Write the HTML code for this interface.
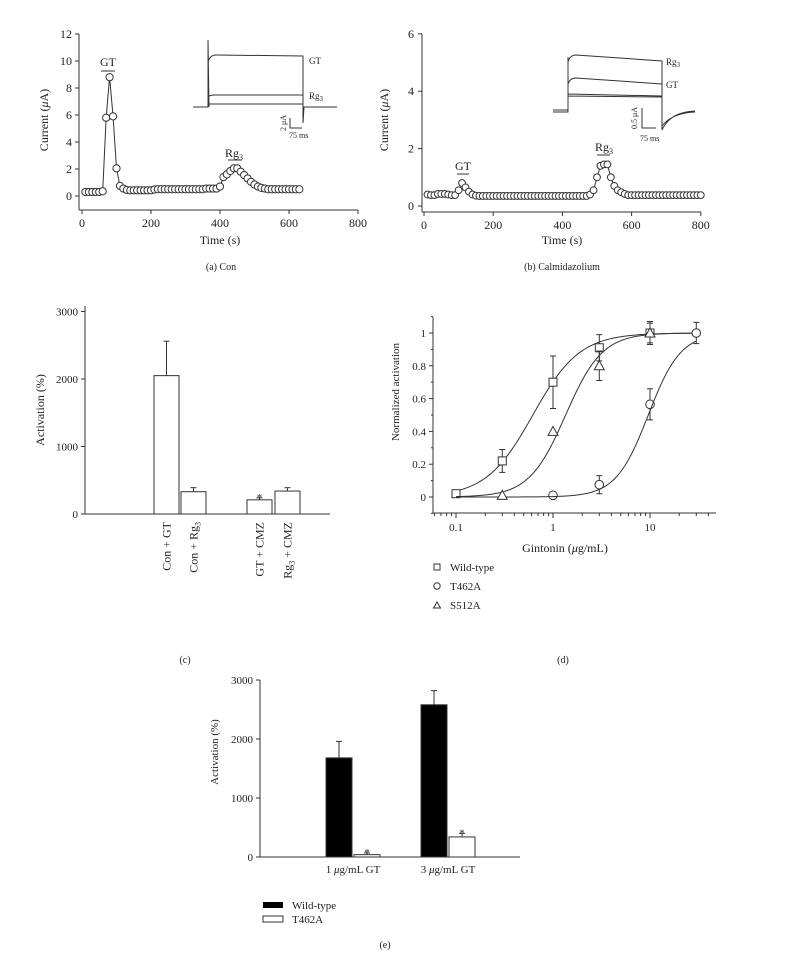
<!DOCTYPE html>
<html><head><meta charset="utf-8"><style>
html,body{margin:0;padding:0;background:#fff}
svg{display:block;font-family:"Liberation Serif",serif;}
text{fill:#222}
</style></head><body>
<svg id="fig" width="800" height="962" viewBox="0 0 800 962">
<g id="pa">
 <line x1="79" y1="34" x2="79" y2="210" stroke="#333"/>
 <line x1="79" y1="210" x2="358" y2="210" stroke="#333"/>
 <text x="48" y="120" font-size="12" text-anchor="middle" transform="rotate(-90 48 120)">Current (<tspan font-style="italic">μ</tspan>A)</text>
 <text x="220" y="244" font-size="12" text-anchor="middle">Time (s)</text>
 <text x="221" y="270" font-size="10" text-anchor="middle">(a)  Con</text>
 <text x="108" y="66" font-size="12" text-anchor="middle">GT</text>
 <line x1="101" y1="71" x2="115" y2="71" stroke="#333"/>
 <text x="234" y="157" font-size="12" text-anchor="middle">Rg<tspan font-size="8" dy="3">3</tspan></text>
 <line x1="228" y1="160" x2="242" y2="160" stroke="#333"/>
 <g fill="none" stroke="#333">
  <path d="M193 107 H208 V40 L209 107 M208 62 Q210 55 216 55 L303 56 V107 M208 97 Q210 95 214 95 H303 M208 104 H303 M303 107 V123 L304 107 H337"/>
  <path d="M290 118 V128 H302"/>
 </g>
 <text x="309" y="64" font-size="9">GT</text>
 <text x="309" y="99" font-size="9">Rg<tspan font-size="7" dy="2">3</tspan></text>
 <text x="286" y="123" font-size="8" text-anchor="middle" transform="rotate(-90 286 123)">2 μA</text>
 <text x="289" y="138" font-size="8">75 ms</text>
</g>
<g id="pb">
 <line x1="422" y1="34" x2="422" y2="212" stroke="#333"/>
 <line x1="422" y1="212" x2="701" y2="212" stroke="#333"/>
 <text x="388" y="120" font-size="12" text-anchor="middle" transform="rotate(-90 388 120)">Current (<tspan font-style="italic">μ</tspan>A)</text>
 <text x="562" y="244" font-size="12" text-anchor="middle">Time (s)</text>
 <text x="562" y="270" font-size="10" text-anchor="middle">(b)  Calmidazolium</text>
 <text x="463" y="170" font-size="12" text-anchor="middle">GT</text>
 <line x1="457" y1="174" x2="469" y2="174" stroke="#333"/>
 <text x="604" y="151" font-size="12" text-anchor="middle">Rg<tspan font-size="8" dy="3">3</tspan></text>
 <line x1="597" y1="155" x2="610" y2="155" stroke="#333"/>
 <g fill="none" stroke="#333">
  <path d="M553 110 H568 M553 112 H568 V57 M568 62 Q570 55 576 55 L662 61 V130 M568 84 Q570 78 576 78 L662 84 M568 94 L662 96 M568 96 L662 97 M662 130 Q670 112 695 111 M662 126 Q672 113 695 112"/>
  <path d="M642 108 V128 H656"/>
 </g>
 <text x="666" y="65" font-size="9">Rg<tspan font-size="7" dy="2">3</tspan></text>
 <text x="666" y="88" font-size="9">GT</text>
 <text x="637" y="118" font-size="8" text-anchor="middle" transform="rotate(-90 637 118)">0.5 μA</text>
 <text x="640" y="141" font-size="8">75 ms</text>
</g>
<g id="pc">
 <line x1="85" y1="306" x2="85" y2="514" stroke="#333"/>
 <line x1="85" y1="514" x2="330" y2="514" stroke="#333"/>
 <text x="44" y="410" font-size="12" text-anchor="middle" transform="rotate(-90 44 410)">Activation (%)</text>
 <text x="185" y="663" font-size="10" text-anchor="middle">(c)</text>
</g>
<g id="pd">
 <line x1="433" y1="317" x2="433" y2="513" stroke="#333"/>
 <line x1="433" y1="513" x2="716" y2="513" stroke="#333"/>
 <text x="399" y="392" font-size="11" text-anchor="middle" transform="rotate(-90 399 392)">Normalized activation</text>
 <text x="565" y="552" font-size="12" text-anchor="middle">Gintonin (<tspan font-style="italic">μ</tspan>g/mL)</text>
 <text x="563" y="663" font-size="10" text-anchor="middle">(d)</text>
 <g font-size="11">
  <rect x="434" y="564" width="6" height="6" fill="none" stroke="#333"/>
  <text x="450" y="571">Wild-type</text>
  <circle cx="437" cy="586" r="3.2" fill="none" stroke="#333"/>
  <text x="450" y="590">T462A</text>
  <path d="M433.5 608 L437 602 L440.5 608 Z" fill="none" stroke="#333"/>
  <text x="450" y="609">S512A</text>
 </g>
</g>
<g id="pe">
 <line x1="260" y1="680" x2="260" y2="857" stroke="#333"/>
 <line x1="260" y1="857" x2="520" y2="857" stroke="#333"/>
 <text x="218" y="752" font-size="11" text-anchor="middle" transform="rotate(-90 218 752)">Activation (%)</text>
 <text x="385" y="948" font-size="10" text-anchor="middle">(e)</text>
 <rect x="263" y="902" width="20" height="6" fill="#000"/>
 <text x="292" y="909" font-size="11">Wild-type</text>
 <rect x="263" y="916" width="20" height="6" fill="#fff" stroke="#333"/>
 <text x="292" y="923" font-size="11">T462A</text>
</g>
</svg>
<script>
// Panel (a) data
const aTimes = [10,20,30,40,50,60,70,80,90,100,110,120,130,140,150,160,170,180,190,200,210,220,230,240,250,260,270,280,290,300,310,320,330,340,350,360,370,380,390,400,410,420,430,440,450,460,470,480,490,500,510,520,530,540,550,560,570,580,590,600,610,620,630];
const aCurrent = [0.3,0.3,0.3,0.3,0.3,0.35,5.8,8.8,5.9,2.05,0.75,0.55,0.45,0.42,0.42,0.42,0.42,0.42,0.42,0.42,0.48,0.5,0.5,0.5,0.5,0.5,0.5,0.5,0.5,0.5,0.5,0.5,0.5,0.5,0.5,0.55,0.55,0.55,0.55,0.7,1.4,1.6,1.85,2.05,2.05,1.8,1.55,1.3,1.05,0.85,0.7,0.6,0.55,0.5,0.5,0.5,0.5,0.5,0.5,0.5,0.5,0.5,0.5];
const aYTicks = [0,2,4,6,8,10,12];
const aXTicks = [0,200,400,600,800];
// Panel (b) data
const bTimes = [];
for (let t = 10; t <= 800; t += 10) bTimes.push(t);
const bCurrent = [0.4,0.38,0.38,0.42,0.42,0.42,0.4,0.38,0.38,0.55,0.8,0.65,0.5,0.4,0.36,0.35,0.35,0.35,0.35,0.35,0.35,0.35,0.35,0.35,0.35,0.35,0.35,0.35,0.35,0.35,0.35,0.35,0.35,0.35,0.35,0.35,0.35,0.35,0.35,0.35,0.35,0.35,0.35,0.35,0.35,0.35,0.35,0.4,0.55,1.0,1.4,1.45,1.45,1.0,0.7,0.55,0.48,0.42,0.38,0.38,0.38,0.38,0.38,0.38,0.38,0.38,0.38,0.38,0.38,0.38,0.38,0.38,0.38,0.38,0.38,0.38,0.38,0.38,0.38,0.38];
const bYTicks = [0,2,4,6];
const bXTicks = [0,200,400,600,800];
// Panel (c) data
const cCategories = ["Con + GT","Con + Rg3","GT + CMZ","Rg3 + CMZ"];
const cValues = [2050,330,210,340];
const cErrors = [510,60,30,50];
const cStars = [false,false,true,false];
const cYTicks = [0,1000,2000,3000];
// Panel (d) data
const dSeriesNames = ["Wild-type","T462A","S512A"];
const dWtX = [0.1,0.3,1,3,10];
const dWtY = [0.02,0.22,0.7,0.91,1.0];
const dWtErr = [0,0.07,0.16,0.08,0.07];
const dT4X = [1,3,10,30];
const dT4Y = [0.01,0.075,0.565,1.0];
const dT4Err = [0,0.055,0.095,0.065];
const dS5X = [0.3,1,3,10];
const dS5Y = [0.01,0.4,0.8,1.0];
const dS5Err = [0,0,0.09,0.06];
const dEC50 = [0.62,1.35,9.6];
const dHill = [1.8,2.3,2.6];
const dYTicks = [0,0.2,0.4,0.6,0.8,1];
const dYMinor = [-0.1,0.1,0.3,0.5,0.7,0.9,1.1];
const dXTicks = [0.1,1,10];
// Panel (e) data
const eGroups = ["1 μg/mL GT","3 μg/mL GT"];
const eWild = [1680,2580];
const eWildErr = [280,240];
const eT462A = [40,340];
const eT462AErr = [30,60];
const eYTicks = [0,1000,2000,3000];

const NS = "http://www.w3.org/2000/svg";
function mk(parent, tag, attrs, txt) {
  const e = document.createElementNS(NS, tag);
  for (const k in attrs) e.setAttribute(k, attrs[k]);
  if (txt !== undefined) e.textContent = txt;
  parent.appendChild(e);
  return e;
}
const S = "#333";

// ---- Panel a
(function(){
  const g = document.getElementById("pa");
  const x = t => 82 + t * 0.345;
  const y = v => 196 - v * 13.5;
  aYTicks.forEach(v => {
    const t = mk(g, "line", {x1:75,x2:79,y1:y(v),y2:y(v),stroke:S});
    
    
    const l = mk(g, "text", {x:72,y:y(v)+4,"font-size":12,"text-anchor":"end"}, String(v));
    
    
  });
  aXTicks.forEach(v => {
    const t = mk(g, "line", {x1:x(v),x2:x(v),y1:210,y2:214,stroke:S});
    
    
    const l = mk(g, "text", {x:x(v),y:227,"font-size":12,"text-anchor":"middle"}, String(v));
    
    
  });
  const p = mk(g, "polyline", {points: aTimes.map((t,i)=>x(t)+","+y(aCurrent[i])).join(" "), fill:"none", stroke:S});
  
  
  aTimes.forEach((t,i) => {
    const c = mk(g, "circle", {cx:x(t),cy:y(aCurrent[i]),r:3.6,fill:"#fff",stroke:S});
    
    
  });
})();

// ---- Panel b
(function(){
  const g = document.getElementById("pb");
  const x = t => 424 + t * 0.346;
  const y = v => 206 - v * 28.7;
  bYTicks.forEach(v => {
    const t = mk(g, "line", {x1:418,x2:422,y1:y(v),y2:y(v),stroke:S});
    
    
    const l = mk(g, "text", {x:414,y:y(v)+4,"font-size":12,"text-anchor":"end"}, String(v));
    
    
  });
  bXTicks.forEach(v => {
    const t = mk(g, "line", {x1:x(v),x2:x(v),y1:212,y2:216,stroke:S});
    
    
    const l = mk(g, "text", {x:x(v),y:229,"font-size":12,"text-anchor":"middle"}, String(v));
    
    
  });
  const p = mk(g, "polyline", {points: bTimes.map((t,i)=>x(t)+","+y(bCurrent[i])).join(" "), fill:"none", stroke:S});
  
  
  bTimes.forEach((t,i) => {
    const c = mk(g, "circle", {cx:x(t),cy:y(bCurrent[i]),r:3.4,fill:"#fff",stroke:S});
    
    
  });
})();

// ---- Panel c
(function(){
  const g = document.getElementById("pc");
  const y = v => 514 - v * 0.0675;
  const lefts = [154,181,247,275];
  const w = 25;
  cYTicks.forEach(v => {
    const t = mk(g, "line", {x1:81,x2:85,y1:y(v),y2:y(v),stroke:S});
    
    
    const l = mk(g, "text", {x:78,y:y(v)+4,"font-size":11,"text-anchor":"end"}, String(v));
    
    
  });
  cValues.forEach((v,i) => {
    const cx = lefts[i] + w/2;
    const e = mk(g, "line", {x1:cx,x2:cx,y1:y(v),y2:y(v+cErrors[i]),stroke:S});
    
    
    const ec = mk(g, "line", {x1:cx-3,x2:cx+3,y1:y(v+cErrors[i]),y2:y(v+cErrors[i]),stroke:S});
    
    
    const r = mk(g, "rect", {x:lefts[i],y:y(v),width:w,height:514-y(v),fill:"#fff",stroke:S});
    
    
    if (cStars[i]) {
      const s = mk(g, "text", {x:cx,y:y(v+cErrors[i])+3,"font-size":11,"text-anchor":"middle"}, "*");
      
      
    }
    const tx = cx + 4, ty = 522;
    const lab = cCategories[i];
    const l = mk(g, "text", {x:tx,y:ty,"font-size":12,"text-anchor":"end",transform:`rotate(-90 ${tx} ${ty})`});
    
    
    const parts = lab.split("Rg3");
    if (parts.length > 1) {
      mk(l, "tspan", {}, parts[0] + "Rg");
      mk(l, "tspan", {"font-size":8,dy:3}, "3");
      mk(l, "tspan", {dy:-3}, parts[1]);
    } else l.textContent = lab;
  });
})();

// ---- Panel d
(function(){
  const g = document.getElementById("pd");
  const x = v => 456 + (Math.log10(v) + 1) * 97;
  const y = v => 497 - v * 164;
  dYTicks.forEach(v => {
    const t = mk(g, "line", {x1:429,x2:433,y1:y(v),y2:y(v),stroke:S});
    
    
    const l = mk(g, "text", {x:426,y:y(v)+4,"font-size":11,"text-anchor":"end"}, String(v));
    
    
  });
  dYMinor.forEach(v => {
    const t = mk(g, "line", {x1:431,x2:433,y1:y(v),y2:y(v),stroke:S});
    
    
  });
  for (let d = -2; d <= 1; d++) for (let m = 1; m <= 9; m++) {
    const v = m * Math.pow(10, d);
    const px = x(v);
    if (px < 433 || px > 716) continue;
    const t = mk(g, "line", {x1:px,x2:px,y1:513,y2:m===1?518:516,stroke:S});
    
    
  }
  dXTicks.forEach(v => {
    const l = mk(g, "text", {x:x(v),y:531,"font-size":11,"text-anchor":"middle"}, String(v));
    
    
  });
  const series = [[dWtX,dWtY,dWtErr,"square"],[dT4X,dT4Y,dT4Err,"circle"],[dS5X,dS5Y,dS5Err,"triangle"]];
  series.forEach((s,si) => {
    const pts = [];
    for (let k = 0; k <= 120; k++) {
      const c = Math.pow(10, -1 + k * Math.log10(300) / 120);
      const r = Math.pow(c / dEC50[si], dHill[si]);
      pts.push(x(c) + "," + y(r / (1 + r)));
    }
    const p = mk(g, "polyline", {points: pts.join(" "), fill:"none", stroke:S});
    
    
    s[0].forEach((cv,i) => {
      const px = x(cv), py = y(s[1][i]), e = s[2][i];
      if (e > 0) {
        const eb = mk(g, "path", {d:`M${px} ${y(s[1][i]-e)} V${y(s[1][i]+e)} M${px-3} ${y(s[1][i]-e)} h6 M${px-3} ${y(s[1][i]+e)} h6`, stroke:S, fill:"none"});
        
        
      }
      let m;
      if (s[3] === "square") m = mk(g, "rect", {x:px-4,y:py-4,width:8,height:8,fill:"#fff",stroke:S});
      else if (s[3] === "circle") m = mk(g, "circle", {cx:px,cy:py,r:4.3,fill:"#fff",stroke:S});
      else m = mk(g, "path", {d:`M${px-5} ${py+4} L${px} ${py-5} L${px+5} ${py+4} Z`,fill:"#fff",stroke:S});
      
      
    });
  });
})();

// ---- Panel e
(function(){
  const g = document.getElementById("pe");
  const y = v => 857 - v * 0.059;
  const wl = [326,421], tl = [354,449], w = 26;
  eYTicks.forEach(v => {
    const t = mk(g, "line", {x1:256,x2:260,y1:y(v),y2:y(v),stroke:S});
    
    
    const l = mk(g, "text", {x:253,y:y(v)+4,"font-size":11,"text-anchor":"end"}, String(v));
    
    
  });
  eGroups.forEach((gname,i) => {
    [[wl[i],eWild[i],eWildErr[i],"#000",false,"bar-wild-type"],[tl[i],eT462A[i],eT462AErr[i],"#fff",true,"bar-t462a"]].forEach(b => {
      const cx = b[0] + w/2;
      const eb = mk(g, "path", {d:`M${cx} ${y(b[1])} V${y(b[1]+b[2])} M${cx-3} ${y(b[1]+b[2])} h6`, stroke:S, fill:"none"});
      
      
      const r = mk(g, "rect", {x:b[0],y:y(b[1]),width:w,height:857-y(b[1]),fill:b[3],stroke:S});
      
      
      if (b[4]) {
        const s = mk(g, "text", {x:cx,y:y(b[1]+b[2])+3,"font-size":11,"text-anchor":"middle"}, "*");
        
        
      }
    });
    const parts = gname.split("μ");
    const l = mk(g, "text", {x:(wl[i]+tl[i]+w)/2,y:873,"font-size":11,"text-anchor":"middle"});
    
    
    mk(l, "tspan", {}, parts[0]);
    mk(l, "tspan", {"font-style":"italic"}, "μ");
    mk(l, "tspan", {}, parts[1]);
  });
})();
</script>
</body></html>
